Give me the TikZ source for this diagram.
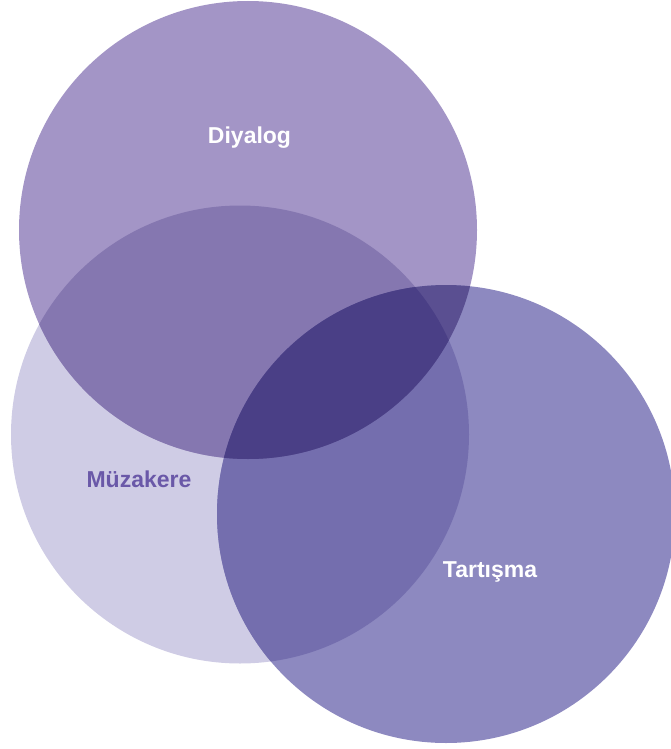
\documentclass[tikz,border=0pt]{standalone}
\usepackage{fontspec}
\setmainfont{Liberation Sans}
\definecolor{cD}{HTML}{A395C6}
\definecolor{cM}{HTML}{CFCCE5}
\definecolor{cT}{HTML}{8D89C0}
\definecolor{cDM}{HTML}{8577B0}
\definecolor{cMT}{HTML}{746EAE}
\definecolor{cDT}{HTML}{5A4F91}
\definecolor{cDMT}{HTML}{4A3F86}
\definecolor{cMtext}{HTML}{6A58A8}
\tikzset{lbl/.style={font=\fontsize{23}{27}\selectfont\bfseries, anchor=base}}
\begin{document}
\begin{tikzpicture}[x=1pt,y=-1pt]
\useasboundingbox (0,0) rectangle (670,749);
\def\circD{(248,230) circle[radius=229]}
\def\circM{(240,434.5) circle[radius=229]}
\def\circT{(446,514) circle[radius=229]}
\fill[cM] \circM;
\fill[cD] \circD;
\fill[cT] \circT;
\begin{scope}
\clip \circD;
\fill[cDM] \circM;
\end{scope}
\begin{scope}
\clip \circT;
\fill[cMT] \circM;
\end{scope}
\begin{scope}
\clip \circD;
\fill[cDT] \circT;
\end{scope}
\begin{scope}
\clip \circD;
\clip \circT;
\fill[cDMT] \circM;
\end{scope}
\node[lbl, text=white] (d) at (249.5,143) {Diyalog};
\node[lbl, text=cMtext] (m) at (139,487) {Müzakere};
\node[lbl, text=white] (t) at (490,577) {Tartışma};
\end{tikzpicture}
\end{document}
